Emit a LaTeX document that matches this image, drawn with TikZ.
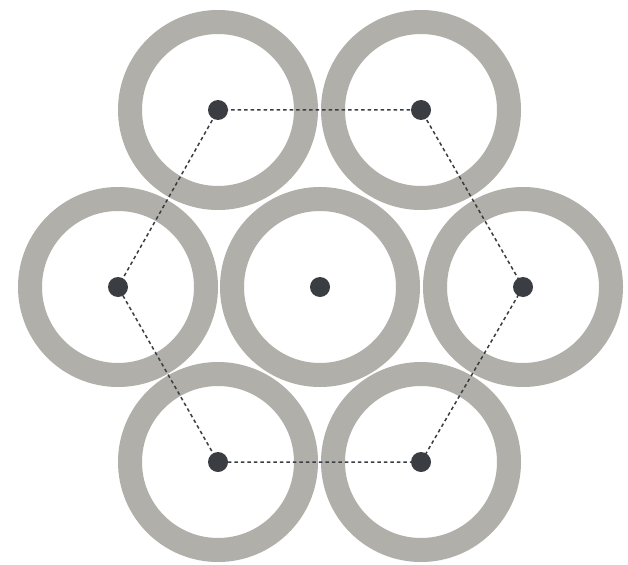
\documentclass[tikz,border=0pt]{standalone}
\begin{document}
\begin{tikzpicture}[x=1pt,y=-1pt,
  ring/.style={draw=ringgray,line width=24pt},
  dotpt/.style={circle,inner sep=0pt,minimum size=20pt},
  hexline/.style={draw=dotdark,line width=1.5pt,dash pattern=on 3.5pt off 3pt}]
\definecolor{ringgray}{RGB}{176,175,169}
\definecolor{dotdark}{RGB}{58,61,66}
\useasboundingbox (0,0) rectangle (628,564);
\fill[white] (0,0) rectangle (628,564);
\foreach \x/\y in {320/287,118/287,523/287,218/110,421/110,218/462,421/462}
  \draw[ring] (\x,\y) circle (88);
\node[dotpt] (c) at (320,287) {};
\node[dotpt] (w) at (118,287) {};
\node[dotpt] (e) at (523,287) {};
\node[dotpt] (nw) at (218,110) {};
\node[dotpt] (ne) at (421,110) {};
\node[dotpt] (sw) at (218,462) {};
\node[dotpt] (se) at (421,462) {};
\draw[hexline] (nw.center) -- (ne.center) -- (e.center) -- (se.center) -- (sw.center) -- (w.center) -- cycle;
\foreach \n in {c,w,e,nw,ne,sw,se}
  \fill[dotdark] (\n.center) circle (10);
\end{tikzpicture}
\end{document}
